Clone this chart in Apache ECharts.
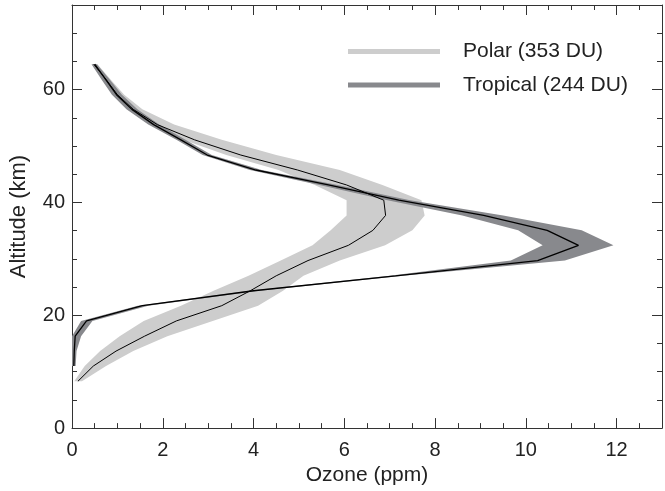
<!DOCTYPE html>
<html>
<head>
<meta charset="utf-8">
<script src="https://cdn.jsdelivr.net/npm/echarts@6/dist/echarts.min.js"></script>
<style>
html,body{margin:0;padding:0;background:#fff;}
#chart{width:665px;height:491px;}
</style>
</head>
<body>
<div id="chart"></div>
<script>
// Altitude levels (km)
const polarAlt = [8.3, 11.0, 13.65, 16.3, 19.0, 21.7, 24.35, 27.0, 29.7, 32.4, 35.05, 37.7, 40.4, 43.1, 45.75, 48.4, 51.1, 53.8, 56.5, 59.1, 61.8, 64.5];
const polarMean = [0.13, 0.47, 0.97, 1.6, 2.3, 3.3, 3.93, 4.5, 5.2, 6.09, 6.63, 6.91, 6.87, 6.05, 4.97, 3.72, 2.7, 1.88, 1.35, 1.0, 0.75, 0.48];
const polarLo = [0.05, 0.28, 0.62, 1.05, 1.58, 2.4, 3.12, 3.89, 4.6, 5.3, 5.7, 6.05, 6.05, 5.35, 4.55, 3.4, 2.45, 1.7, 1.22, 0.92, 0.68, 0.44];
const polarHi = [0.22, 0.75, 1.35, 2.1, 3.1, 4.1, 4.65, 5.1, 5.9, 6.9, 7.5, 7.77, 7.7, 6.84, 5.9, 4.5, 3.3, 2.25, 1.55, 1.15, 0.85, 0.56];

const tropAlt = [11.0, 13.65, 16.3, 19.0, 21.7, 24.35, 27.0, 29.7, 32.4, 35.05, 37.7, 40.4, 43.1, 45.75, 48.4, 51.1, 53.8, 56.5, 59.1, 61.8, 64.5];
const tropMean = [0.04, 0.05, 0.07, 0.32, 1.55, 4.0, 7.13, 10.26, 11.16, 10.47, 9.07, 7.2, 5.65, 4.05, 2.98, 2.4, 1.8, 1.32, 0.98, 0.74, 0.5];
const tropLo = [0.0, 0.0, 0.0, 0.2, 1.45, 3.9, 7.0, 9.67, 10.37, 9.83, 8.6, 6.95, 5.45, 3.92, 2.88, 2.3, 1.68, 1.2, 0.88, 0.65, 0.43];
const tropHi = [0.08, 0.1, 0.2, 0.45, 1.68, 4.12, 7.3, 10.86, 11.93, 11.23, 9.5, 7.45, 5.85, 4.18, 3.08, 2.5, 1.92, 1.44, 1.1, 0.83, 0.55];

const xTicks = [0, 2, 4, 6, 8, 10, 12];
const yTicks = [0, 20, 40, 60];
const seriesNames = ['Polar (353 DU)', 'Tropical (244 DU)'];

const FONT = "'Liberation Sans', Arial, Helvetica, sans-serif";
const TXT = '#222';
const LIGHT = '#cdcdcd';
const DARK = '#88898d';

function bandSeries(name, alt, lo, hi, color) {
  return {
    name: name,
    type: 'custom',
    xAxisIndex: 0, yAxisIndex: 0,
    itemStyle: {color: color},
    data: alt.map((a, i) => [lo[i], a, hi[i]]),
    encode: {x: [0, 2], y: 1},
    clip: true,
    renderItem: function (params, api) {
      if (params.dataIndex !== 0) return null;
      const pts = [];
      for (let i = 0; i < alt.length; i++) pts.push(api.coord([lo[i], alt[i]]));
      for (let i = alt.length - 1; i >= 0; i--) pts.push(api.coord([hi[i], alt[i]]));
      return {type: 'polygon', shape: {points: pts}, style: {fill: color, stroke: null}};
    }
  };
}

function lineSeries(name, alt, vals, width) {
  return {
    name: name + ' mean',
    type: 'line',
    data: alt.map((a, i) => [vals[i], a]),
    showSymbol: false,
    symbol: 'none',
    lineStyle: {color: '#000', width: width},
    z: 5
  };
}

const axisCommonX = {
  type: 'value', min: 0, max: 13, interval: 2,
  axisLine: {show: true, onZero: false, lineStyle: {color: '#333', width: 1}},
  axisTick: {show: true, inside: true, length: 10, lineStyle: {color: '#333'}},
  minorTick: {show: true, splitNumber: 4, length: 5, lineStyle: {color: '#333'}},
  splitLine: {show: false}
};
const axisCommonY = {
  type: 'value', min: 0, max: 75, interval: 20,
  axisLine: {show: true, onZero: false, lineStyle: {color: '#333', width: 1}},
  axisTick: {show: true, inside: true, length: 10, lineStyle: {color: '#333'}},
  minorTick: {show: true, splitNumber: 4, length: 5, lineStyle: {color: '#333'}},
  splitLine: {show: false}
};

const chart = echarts.init(document.getElementById('chart'), null, {renderer: 'canvas'});
chart.setOption({
  animation: false,
  backgroundColor: '#fff',
  grid: {left: 70, top: 5, right: -7, bottom: 59, containLabel: false},
  legend: {
    data: seriesNames,
    orient: 'vertical',
    left: 343, top: 36,
    itemWidth: 92, itemHeight: 5, itemGap: 12.6,
    icon: 'rect',
    textStyle: {fontFamily: FONT, fontSize: 21, color: TXT, lineHeight: 21, padding: [0, 0, 0, 18]},
    selectedMode: false
  },
  xAxis: [
    Object.assign({}, axisCommonX, {
      position: 'bottom',
      name: 'Ozone (ppm)', nameLocation: 'middle', nameGap: 31,
      nameTextStyle: {fontFamily: FONT, fontSize: 21, color: TXT},
      axisLabel: {fontFamily: FONT, fontSize: 20, color: TXT, margin: 12,
        formatter: v => xTicks.indexOf(v) >= 0 ? String(v) : ''}
    }),
    Object.assign({}, axisCommonX, {position: 'top', axisLabel: {show: false}})
  ],
  yAxis: [
    Object.assign({}, axisCommonY, {
      position: 'left',
      name: 'Altitude (km)', nameLocation: 'middle', nameGap: 42,
      nameTextStyle: {fontFamily: FONT, fontSize: 22, color: TXT},
      axisLabel: {fontFamily: FONT, fontSize: 20, color: TXT, margin: 7,
        formatter: v => yTicks.indexOf(v) >= 0 ? String(v) : ''}
    }),
    Object.assign({}, axisCommonY, {position: 'right', axisLabel: {show: false}})
  ],
  series: [
    bandSeries(seriesNames[0], polarAlt, polarLo, polarHi, LIGHT),
    bandSeries(seriesNames[1], tropAlt, tropLo, tropHi, DARK),
    lineSeries(seriesNames[0], polarAlt, polarMean, 1),
    lineSeries(seriesNames[1], tropAlt, tropMean, 1.3)
  ]
});
</script>
</body>
</html>
